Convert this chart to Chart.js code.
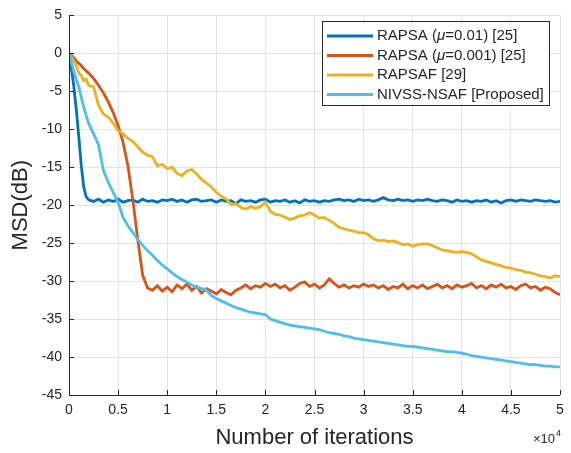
<!DOCTYPE html>
<html>
<head>
<meta charset="utf-8">
<script src="https://cdn.jsdelivr.net/npm/chart.js@4.4.1/dist/chart.umd.min.js"></script>
<style>
  html, body { margin: 0; padding: 0; background: #fff; }
  canvas { display: block; }
</style>
</head>
<body>
<canvas id="msd" width="571" height="453"></canvas>
<script>
// MSD learning curves (dB).
const iterations = [
    0, 250, 500, 750, 1000, 1250, 1500, 1750,
    2000, 2500, 3000, 3500, 4000, 4500, 5000, 5500, 6000, 6500,
    7000, 7500, 8000, 8500, 9000, 9500, 10000, 10500, 11000, 11500,
    12000, 12500, 13000, 13500, 14000, 14500, 15000, 15500, 16000, 16500,
    17000, 17500, 18000, 18500, 19000, 19500, 20000, 20500, 21000, 21500,
    22000, 22500, 23000, 23500, 24000, 24500, 25000, 25500, 26000, 26500,
    27000, 27500, 28000, 28500, 29000, 29500, 30000, 30500, 31000, 31500,
    32000, 32500, 33000, 33500, 34000, 34500, 35000, 35500, 36000, 36500,
    37000, 37500, 38000, 38500, 39000, 39500, 40000, 40500, 41000, 41500,
    42000, 42500, 43000, 43500, 44000, 44500, 45000, 45500, 46000, 46500,
    47000, 47500, 48000, 48500, 49000, 49500, 50000
];

const rapsaFast = [
    0, -2, -4.5, -7.5, -11, -14.8, -17.6, -18.9,
    -19.3, -19.5, -19.2, -19.6, -19.3, -19.5, -19.2, -19.6, -19.4, -19.3,
    -19.6, -19.2, -19.5, -19.4, -19.6, -19.3, -19.4, -19.2, -19.5, -19.3,
    -19.6, -19.3, -19.2, -19.5, -19.4, -19.3, -19.6, -19.3, -19.5, -19.4,
    -19.8, -19.3, -19.5, -19.4, -19.6, -19.3, -19.2, -19.6, -19.4, -19.5,
    -19.3, -19.6, -19.4, -19.7, -19.3, -19.5, -19.4, -19.6, -19.4, -19.5,
    -19.3, -19.2, -19.4, -19.3, -19.5, -19.2, -19.4, -19.3, -19.5, -19.3,
    -19.0, -19.3, -19.4, -19.2, -19.4, -19.3, -19.5, -19.3, -19.4, -19.2,
    -19.4, -19.5, -19.3, -19.4, -19.6, -19.3, -19.5, -19.4, -19.6, -19.4,
    -19.5, -19.3, -19.6, -19.4, -19.7, -19.4, -19.3, -19.5, -19.3, -19.4,
    -19.5, -19.3, -19.4, -19.5, -19.4, -19.6, -19.5
];

const rapsaSlow = [
    0, -0.3, -0.6, -1.0, -1.3, -1.6, -2.0, -2.3,
    -2.6, -3.3, -4.2, -5.2, -6.4, -7.8, -9.5, -11.7, -14.8, -19.3,
    -24.5, -29.2, -30.9, -31.2, -30.6, -31.3, -30.8, -31.4, -30.5, -31.0,
    -30.4, -31.2, -30.7, -31.6, -31.0, -31.3, -31.7, -31.1, -31.5, -31.8,
    -31.2, -30.9, -30.5, -31.0, -30.6, -30.8, -30.3, -30.7, -30.4, -30.9,
    -30.6, -31.2, -30.8, -30.3, -30.1, -30.7, -30.4, -30.9, -30.5, -29.7,
    -30.3, -30.8, -30.5, -30.9, -30.6, -30.8, -30.4, -30.7, -30.5, -30.9,
    -30.6, -31.1, -30.7, -30.9, -30.4, -31.0, -30.6, -30.9, -30.5, -31.0,
    -30.7, -30.4, -30.9, -30.6, -31.0, -30.5, -30.8, -30.6, -30.3, -30.9,
    -30.6, -31.0, -30.5, -30.8, -30.4, -30.9, -30.7, -31.1, -30.6, -30.4,
    -30.9, -30.7, -31.2, -30.8, -31.0, -31.5, -31.8
];

const rapsaf = [
    0, -0.5, -1.0, -1.6, -2.6, -2.9, -3.6, -3.4,
    -4.2, -4.4, -6.8, -8.0, -8.4, -9.2, -10.2, -10.6, -11.2, -11.6,
    -12.3, -13.0, -13.4, -13.6, -14.8, -14.6, -15.2, -15.0, -15.8, -16.1,
    -15.5, -15.3, -15.9, -16.6, -17.1, -17.6, -18.3, -18.8, -19.2, -19.9,
    -19.8, -20.3, -20.5, -20.2, -20.4, -20.2, -19.6, -20.8, -21.2, -21.3,
    -21.6, -21.9, -21.7, -21.4, -21.3, -21.0, -21.3, -21.7, -21.6, -22.0,
    -22.4, -22.9, -23.1, -23.3, -23.4, -23.6, -23.6, -23.9, -24.4, -24.7,
    -24.6, -24.8, -24.7, -24.9, -25.2, -25.1, -25.4, -25.2, -25.1, -25.1,
    -25.3, -25.6, -25.9, -26.0, -26.1, -26.2, -26.1, -26.2, -26.4, -26.8,
    -27.2, -27.4, -27.6, -27.8, -28.0, -28.2, -28.3, -28.5, -28.6, -28.8,
    -28.9, -29.1, -29.3, -29.4, -29.6, -29.3, -29.4
];

const nivssNsaf = [
    0, -1.2, -2.4, -3.5, -4.4, -5.8, -7.1, -8.2,
    -9.2, -10.6, -12.0, -15.4, -17.0, -18.3, -19.6, -21.6, -22.7, -23.6,
    -24.5, -25.3, -26.0, -26.6, -27.3, -27.9, -28.4, -28.9, -29.4, -29.8,
    -30.1, -30.5, -30.8, -31.0, -31.2, -31.9, -32.3, -32.6, -32.9, -33.2,
    -33.5, -33.7, -33.9, -34.1, -34.2, -34.3, -34.4, -35.0, -35.2, -35.4,
    -35.6, -35.8, -35.9, -36.0, -36.1, -36.2, -36.3, -36.4, -36.6, -36.8,
    -36.9, -37.0, -37.2, -37.3, -37.5, -37.6, -37.7, -37.8, -37.9, -38.0,
    -38.1, -38.2, -38.3, -38.4, -38.5, -38.6, -38.6, -38.7, -38.8, -38.9,
    -39.0, -39.1, -39.2, -39.3, -39.3, -39.4, -39.5, -39.6, -39.8, -39.9,
    -40.0, -40.1, -40.2, -40.3, -40.4, -40.5, -40.6, -40.7, -40.8, -40.9,
    -41.0, -41.0, -41.1, -41.2, -41.2, -41.3, -41.3
];

const seriesLabels = ['RAPSA (μ=0.01) [25]', 'RAPSA (μ=0.001) [25]', 'RAPSAF [29]', 'NIVSS-NSAF [Proposed]'];
const seriesColors = ['#0072BD', '#D95319', '#EDB120', '#4DBEEE'];

const FONT = "'Liberation Sans', Arial, Helvetica, sans-serif";
const AXIS_COLOR = '#262626';

function toPoints(values) {
    return values.map((v, i) => ({ x: iterations[i], y: v }));
}

const seriesValues = [rapsaFast, rapsaSlow, rapsaf, nivssNsaf];

// later series drawn on top, like MATLAB
const datasets = seriesValues.map((vals, i) => ({
    label: seriesLabels[i],
    data: toPoints(vals),
    borderColor: seriesColors[i],
    backgroundColor: seriesColors[i],
    borderWidth: 2.8,
    pointRadius: 0,
    tension: 0,
    order: seriesValues.length - i
}));

// left/bottom axis lines with inward ticks, exponent label, legend box
const matlabAxes = {
    id: 'matlabAxes',
    afterDraw(chart) {
        const { ctx, chartArea: area, scales } = chart;
        ctx.save();
        ctx.strokeStyle = AXIS_COLOR;
        ctx.lineWidth = 1;
        ctx.beginPath();
        ctx.moveTo(area.left + 0.5, area.top);
        ctx.lineTo(area.left + 0.5, area.bottom + 0.5);
        ctx.lineTo(area.right, area.bottom + 0.5);
        scales.y.ticks.forEach(t => {
            const py = Math.round(scales.y.getPixelForValue(t.value)) + 0.5;
            ctx.moveTo(area.left, py);
            ctx.lineTo(area.left + 5, py);
        });
        scales.x.ticks.forEach(t => {
            const px = Math.round(scales.x.getPixelForValue(t.value)) + 0.5;
            ctx.moveTo(px, area.bottom);
            ctx.lineTo(px, area.bottom - 5);
        });
        ctx.stroke();

        // x10^4 multiplier
        ctx.fillStyle = AXIS_COLOR;
        ctx.textBaseline = 'alphabetic';
        ctx.textAlign = 'right';
        ctx.font = '9px ' + FONT;
        ctx.fillText('4', area.right + 1, 436);
        ctx.font = '13px ' + FONT;
        ctx.fillText('×10', area.right - 5, 443);

        // legend
        const box = { x: 322.5, y: 21.5, w: 227, h: 84 };
        ctx.fillStyle = '#ffffff';
        ctx.fillRect(box.x, box.y, box.w, box.h);
        ctx.strokeStyle = AXIS_COLOR;
        ctx.strokeRect(box.x, box.y, box.w, box.h);
        ctx.textAlign = 'left';
        ctx.textBaseline = 'middle';
        chart.data.datasets.forEach((ds, i) => {
            const cy = 36 + i * 19.5;
            ctx.strokeStyle = ds.borderColor;
            ctx.lineWidth = 2.8;
            ctx.beginPath();
            ctx.moveTo(327, cy);
            ctx.lineTo(373, cy);
            ctx.stroke();
            ctx.fillStyle = AXIS_COLOR;
            let tx = 377;
            ds.label.split(/(μ)/).forEach(part => {
                if (!part) return;
                ctx.font = (part === 'μ' ? 'italic ' : '') + '15px ' + FONT;
                ctx.fillText(part, tx, cy);
                tx += ctx.measureText(part).width;
            });
        });
        ctx.restore();
    }
};

new Chart(document.getElementById('msd'), {
    type: 'line',
    data: { datasets },
    options: {
        responsive: false,
        animation: false,
        layout: { padding: { top: 10, right: 11, left: 0, bottom: 0 } },
        plugins: {
            legend: { display: false },
            tooltip: { enabled: false }
        },
        scales: {
            x: {
                type: 'linear',
                min: 0,
                max: 50000,
                afterFit: scale => { scale.height = 58; },
                ticks: {
                    stepSize: 5000,
                    padding: 7,
                    color: AXIS_COLOR,
                    font: { family: FONT, size: 14 },
                    maxRotation: 0,
                    callback: v => String(v / 10000)
                },
                grid: { color: '#e3e3e3', drawTicks: false },
                border: { display: false },
                title: {
                    display: true,
                    text: 'Number of iterations',
                    color: AXIS_COLOR,
                    font: { family: FONT, size: 22 },
                    padding: { top: 0, bottom: 2 }
                }
            },
            y: {
                min: -45,
                max: 5,
                afterFit: scale => { scale.width = 69; },
                ticks: {
                    stepSize: 5,
                    padding: 7,
                    color: AXIS_COLOR,
                    font: { family: FONT, size: 14 }
                },
                grid: { color: '#e3e3e3', drawTicks: false },
                border: { display: false },
                title: {
                    display: true,
                    text: 'MSD(dB)',
                    color: AXIS_COLOR,
                    font: { family: FONT, size: 22 },
                    padding: { top: 8, bottom: 0 }
                }
            }
        }
    },
    plugins: [matlabAxes]
});
</script>
</body>
</html>
